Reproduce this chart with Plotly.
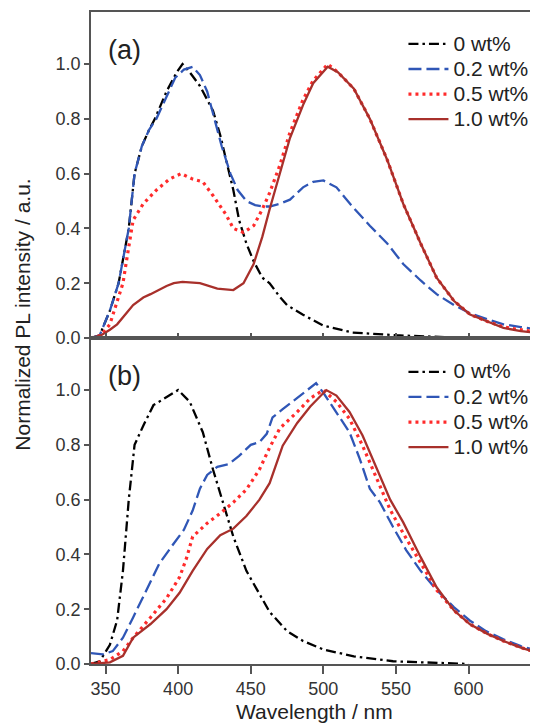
import plotly.graph_objects as go

# ---------------- data ----------------
labels = ["0 wt%", "0.2 wt%", "0.5 wt%", "1.0 wt%"]

# panel (a)
a0_x = [340, 346, 353, 359, 366, 370, 375, 380, 384, 388, 392, 396, 399, 403, 408, 415, 420, 424, 429, 433,
        438, 442, 447, 452, 458, 463, 470, 475, 486, 500, 520, 550, 575, 600]
a0_y = [0.0, 0.01, 0.1, 0.2, 0.4, 0.6, 0.7, 0.76, 0.8, 0.85, 0.9, 0.94, 0.97, 1.0, 0.97, 0.92, 0.87, 0.83, 0.74, 0.65,
        0.54, 0.43, 0.345, 0.28, 0.22, 0.2, 0.15, 0.12, 0.085, 0.045, 0.02, 0.01, 0.005, 0.0]

a1_x = [340, 346, 353, 359, 366, 370, 375, 380, 385, 392, 398, 404, 410, 415, 420, 425, 430, 436, 441, 447,
        453, 458, 463, 470, 477, 486, 493, 500, 509, 520, 532, 544, 555, 567, 578, 590, 601, 613, 624, 636, 648]
a1_y = [0.0, 0.01, 0.1, 0.2, 0.4, 0.6, 0.7, 0.76, 0.8, 0.88, 0.95, 0.98, 0.99, 0.96, 0.9, 0.8, 0.7, 0.6, 0.54, 0.5,
        0.485, 0.48, 0.48, 0.49, 0.505, 0.55, 0.57, 0.575, 0.55, 0.48, 0.41, 0.345, 0.27, 0.21, 0.16, 0.12, 0.09,
        0.068, 0.05, 0.04, 0.031]

a2_x = [340, 347, 353, 358, 362, 365, 369, 376, 385, 394, 402, 410, 417, 424, 429, 433, 438, 445, 452, 458,
        463, 470, 477, 486, 493, 503, 510, 521, 532, 544, 555, 567, 578, 590, 601, 613, 624, 636, 648]
a2_y = [0.0, 0.01, 0.05, 0.13, 0.2, 0.3, 0.43, 0.49, 0.54, 0.58, 0.6, 0.58, 0.57, 0.52, 0.48, 0.45, 0.4, 0.385,
        0.41, 0.47, 0.53, 0.63, 0.75, 0.87, 0.94, 1.0, 0.97, 0.91, 0.8, 0.65, 0.49, 0.345, 0.22, 0.135, 0.086,
        0.06, 0.04, 0.03, 0.02]

a3_x = [340, 347, 353, 358, 369, 376, 381, 392, 397, 403, 415, 427, 438, 445, 452, 458, 463, 470, 477, 486,
        493, 503, 510, 521, 532, 544, 555, 567, 578, 590, 601, 613, 624, 636, 648]
a3_y = [0.0, 0.01, 0.03, 0.05, 0.12, 0.148, 0.16, 0.19, 0.2, 0.205, 0.2, 0.18, 0.175, 0.2, 0.27, 0.37, 0.47,
        0.6, 0.73, 0.85, 0.93, 0.99, 0.97, 0.91, 0.8, 0.65, 0.49, 0.345, 0.22, 0.135, 0.086, 0.06, 0.037,
        0.025, 0.018]

# panel (b)
b0_x = [340, 346, 353, 358, 362, 366, 370, 374, 376, 383, 392, 400, 408, 417, 424, 431, 438, 447, 456, 463,
        475, 486, 500, 521, 548, 575, 600]
b0_y = [0.0, 0.01, 0.07, 0.16, 0.34, 0.6, 0.8, 0.85, 0.87, 0.945, 0.975, 1.0, 0.957, 0.846, 0.71, 0.59, 0.465,
        0.34, 0.256, 0.19, 0.12, 0.084, 0.053, 0.028, 0.01, 0.005, 0.0]

b1_x = [340, 348, 355, 362, 369, 378, 387, 397, 404, 410, 415, 420, 427, 435, 442, 450, 456, 461, 465, 472,
        482, 495, 500, 509, 518, 525, 532, 539, 548, 557, 567, 578, 590, 601, 612, 624, 636, 648]
b1_y = [0.04, 0.035, 0.047, 0.096, 0.17, 0.27, 0.366, 0.44, 0.49, 0.56, 0.64, 0.69, 0.72, 0.73, 0.76, 0.8,
        0.81, 0.84, 0.9, 0.93, 0.97, 1.025, 0.99, 0.92, 0.846, 0.75, 0.64, 0.59, 0.5, 0.416, 0.34, 0.27, 0.207,
        0.158, 0.12, 0.09, 0.065, 0.047]

b2_x = [340, 353, 362, 369, 381, 392, 401, 406, 410, 420, 429, 438, 447, 456, 463, 470, 482, 491, 500, 509,
        518, 527, 537, 546, 555, 567, 578, 590, 601, 613, 624, 636, 648]
b2_y = [0.0, 0.016, 0.047, 0.096, 0.17, 0.24, 0.317, 0.39, 0.465, 0.514, 0.55, 0.59, 0.637, 0.71, 0.79, 0.86,
        0.92, 0.97, 1.0, 0.957, 0.895, 0.797, 0.674, 0.563, 0.477, 0.366, 0.27, 0.195, 0.145, 0.11, 0.084,
        0.06, 0.04]

b3_x = [340, 353, 362, 369, 381, 392, 401, 410, 420, 429, 438, 447, 456, 463, 472, 482, 491, 502, 509, 518,
        527, 537, 546, 555, 567, 578, 590, 601, 613, 624, 636, 648]
b3_y = [0.0, 0.006, 0.03, 0.096, 0.146, 0.2, 0.26, 0.34, 0.42, 0.47, 0.494, 0.54, 0.6, 0.66, 0.797, 0.88,
        0.94, 1.0, 0.98, 0.92, 0.834, 0.71, 0.6, 0.517, 0.39, 0.28, 0.195, 0.145, 0.11, 0.084, 0.06, 0.04]

x_ticks = [350, 400, 450, 500, 550, 600]
y_ticks = [0.0, 0.2, 0.4, 0.6, 0.8, 1.0]

# ---------------- styles ----------------
styles = [
    dict(color="#000000", width=2.3, dash="10px,4px,2.5px,4px"),
    dict(color="#2f56b6", width=2.3, dash="13px,5px"),
    dict(color="#ff2b2b", width=3.2, dash="3px,4px"),
    dict(color="#a8302b", width=2.3, dash="solid"),
]

FONT = "Liberation Sans, Arial, sans-serif"
TXT = "#222222"
fig = go.Figure()

panel_a = [(a0_x, a0_y), (a1_x, a1_y), (a2_x, a2_y), (a3_x, a3_y)]
panel_b = [(b0_x, b0_y), (b1_x, b1_y), (b2_x, b2_y), (b3_x, b3_y)]


def legend_name(s):
    # larger glyphs while the legend row spacing follows the smaller base legend font
    return '<span style="font-size:21px">' + s + '</span>'


for (xs, ys), lab, st in zip(panel_a, labels, styles):
    fig.add_trace(go.Scatter(x=xs, y=ys, mode="lines", name=legend_name(lab), line=st,
                             xaxis="x", yaxis="y", legend="legend"))
for (xs, ys), lab, st in zip(panel_b, labels, styles):
    fig.add_trace(go.Scatter(x=xs, y=ys, mode="lines", name=legend_name(lab), line=st,
                             xaxis="x2", yaxis="y2", legend="legend2"))

axis_common = dict(showline=True, linecolor="#555555", linewidth=1.5, showgrid=False, zeroline=False,
                   ticks="outside", ticklen=5, tickwidth=1.5, tickcolor="#555555",
                   tickfont=dict(family=FONT, size=18, color="#333333"))

# the page body has an 8px default margin: the figure is 8px smaller and margins shifted accordingly
fig.update_layout(
    width=530, height=715,
    margin=dict(l=83, r=0, t=4, b=59),
    paper_bgcolor="white", plot_bgcolor="white",
    font=dict(family=FONT, color=TXT),
    xaxis=dict(axis_common, domain=[0, 1], range=[340, 647.8], tickvals=x_ticks, showticklabels=False,
               anchor="y", mirror=True, ticks="inside"),
    yaxis=dict(axis_common, domain=[0.5, 1], range=[0, 1.19], tickvals=y_ticks, tickformat=".1f",
               anchor="x"),
    xaxis2=dict(axis_common, domain=[0, 1], range=[340, 647.8], tickvals=x_ticks, anchor="y2",
                mirror=True, ticklen=8),
    yaxis2=dict(axis_common, domain=[0, 0.5], range=[0, 1.19], tickvals=y_ticks, tickformat=".1f",
                anchor="x2"),
    legend=dict(x=0.699, y=0.978, xanchor="left", yanchor="top", bgcolor="rgba(0,0,0,0)",
                font=dict(family=FONT, size=17, color=TXT), itemwidth=40, tracegroupgap=0),
    legend2=dict(x=0.699, y=0.475, xanchor="left", yanchor="top", bgcolor="rgba(0,0,0,0)",
                 font=dict(family=FONT, size=17, color=TXT), itemwidth=40, tracegroupgap=0),
    showlegend=True,
    annotations=[
        dict(text="(a)", x=0.076, y=0.941, xref="paper", yref="paper", showarrow=False,
             xanchor="center", yanchor="middle", font=dict(family=FONT, size=27, color=TXT)),
        dict(text="(b)", x=0.076, y=0.441, xref="paper", yref="paper", showarrow=False,
             xanchor="center", yanchor="middle", font=dict(family=FONT, size=27, color=TXT)),
        dict(text="Normalized PL intensity / a.u.", x=-0.154, y=0.536, xref="paper", yref="paper",
             showarrow=False, textangle=-90, xanchor="center", yanchor="middle",
             font=dict(family=FONT, size=21, color=TXT)),
        dict(text="Wavelength / nm", x=0.5, y=-0.073, xref="paper", yref="paper", showarrow=False,
             xanchor="center", yanchor="middle", font=dict(family=FONT, size=21, color=TXT)),
    ],
)

fig.write_html("out.html")
